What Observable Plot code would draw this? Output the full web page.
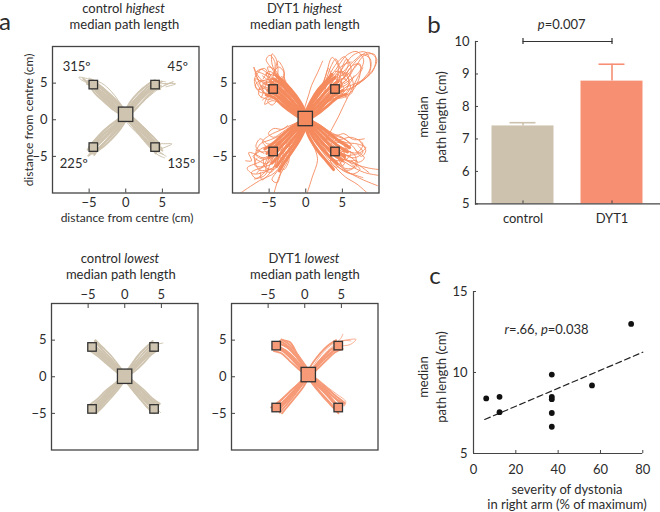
<!DOCTYPE html>
<html>
<head>
<meta charset="utf-8">
<script src="https://cdn.jsdelivr.net/npm/d3@7"></script>
<script src="https://cdn.jsdelivr.net/npm/@observablehq/plot@0.6"></script>
<style>
html,body{margin:0;padding:0;background:#fff}
#page{position:relative;width:660px;height:512px;overflow:hidden;font-family:Lato,sans-serif;color:#2b2b2b}
.t{position:absolute;white-space:nowrap;font-size:13px;line-height:1;transform:translate(-50%,-50%)}
.r{transform:translate(-50%,-50%) rotate(-90deg)}
svg{position:absolute;background:transparent}
</style>
</head>
<body>
<div id="page"></div>
<script>
// ---- panel b ----
const groups = ["control", "DYT1"];
const groupMeans = [7.4, 8.78];
const groupUpper = [7.5, 9.3];
// ---- panel c ----
const severity = [6, 12.3, 12.3, 37, 37, 37, 37, 37, 56, 74.5];
const pathLength = [8.4, 8.5, 7.55, 9.87, 8.5, 8.35, 7.5, 6.65, 9.2, 13];
const fitX = [5.3, 80];
const fitY = [7.1, 11.25];
// ---- panel a: target centres (cm); the first one is the centre target ----
const controlHighTargetX = [0.05, -4.36, 4.07, -4.36, 4.07];
const controlHighTargetY = [0.68, 4.73, 4.73, -3.8, -3.8];
const dytHighTargetX = [0, -4.38, 4.06, -4.38, 4.06];
const dytHighTargetY = [0.1, 4.13, 4.13, -4.4, -4.4];
const controlLowTargetX = [0.05, -4.4, 4.07, -4.4, 4.07];
const controlLowTargetY = [0, 4, 4, -4.46, -4.46];
const dytLowTargetX = [0.55, -3.83, 4.64, -3.83, 4.64];
const dytLowTargetY = [0.23, 4.18, 4.18, -4.27, -4.27];
const angleLabels = ["315º", "45º", "225º", "135º"];
const angleX = [-6.7, 7.1, -7.1, 7.6];
const angleY = [7.2, 7.2, -6, -6];

// Hand-traced reaches, each a flat list x,y,x,y,...
const controlHighPaths = [
[0.1,0.6,-1,1.9,-2.3,3.3,-3.6,4.4,-4.6,5],[0.3,0.9,-0.9,2.2,-2.2,3.5,-3.5,4.6,-4.4,5.1],
[-0.1,0.8,-1.3,1.8,-2.6,3,-3.8,4.2,-4.7,4.8],[0.2,0.4,-1.2,1.6,-2.6,2.8,-3.9,3.9,-4.5,4.6],
[-0.2,0.5,-1.5,1.5,-2.9,2.7,-4,3.8,-4.4,4.4],[0.4,0.2,-1,1.4,-2.5,2.5,-3.7,3.7,-4.3,4.5],
[0,1,-1,2.6,-2,3.9,-3.3,5,-4.8,5.5,-6.4,5.8,-6,5.4,-4.6,4.8],[0.5,0.7,-0.6,2,-1.9,3.3,-3.2,4.5,-4.2,5.3,-5,5.7],
[0,0.4,-1.6,1.3,-3,2.5,-4.2,3.6,-4.9,4.6],[0.1,0.9,-1.1,2.4,-2.4,3.7,-3.8,4.7,-5.2,5.3],
[0.2,0.7,-1.1,2,-2.5,3.2,-3.7,4.1,-5.3,4.9],[0,0.6,-1.2,2.1,-2.7,3.3,-4.1,4.2,-5.8,5.6],
[0.1,0.8,1,2.1,2.2,3.4,3.4,4.4,4.4,5],[-0.2,0.7,0.7,2,1.9,3.4,3.1,4.5,4.2,5.1],
[0.2,0.6,1.3,1.9,2.5,3.2,3.6,4.2,4.5,4.7],[-0.3,0.5,0.4,1.8,1.6,3.2,2.9,4.4,4.1,5.2,5.4,5.2],
[0.3,0.4,1.5,1.6,2.7,2.9,3.7,3.9,4.2,4.4],[0,0.9,0.9,2.4,2.1,3.7,3.3,4.6,4.6,4.9,6.8,4.9,5.5,4.5],
[0,0.5,1.2,1.5,2.6,2.7,3.8,3.7,4.6,4.3,6.5,5.2,5.2,4.7],[-0.1,1,0.6,2.4,1.7,3.7,3,4.8,4,5.4],
[0.2,0.9,1.4,2.2,2.7,3.5,3.9,4.5,4.8,4.6],[0,0.7,1.1,1.8,2.3,3,3.5,4,4.7,4.2],
[0.1,0.5,0.8,1.6,2,3,3.2,4.1,4.4,4.6],[-0.1,0.8,0.9,2.2,2,3.2,3.2,4.2,4.9,5.2],
[0,0.6,-1,-0.6,-2.3,-1.9,-3.5,-3.1,-4.5,-4.1],[0.3,0.4,-0.7,-0.9,-2,-2.2,-3.2,-3.4,-4.2,-4.4],
[-0.3,0.5,-1.4,-0.6,-2.7,-1.7,-3.8,-2.8,-4.6,-3.7],[0.2,0.2,-0.7,-1.2,-1.9,-2.6,-3.1,-3.7,-4.5,-4.6],
[-0.2,0.3,-1.5,-0.3,-2.9,-1.4,-4.1,-2.7,-5,-3.7],[0.4,0.6,-0.8,-0.7,-2.2,-2.1,-3.6,-3.3,-5,-4.6,-4.6,-4],
[0,0.1,-1.1,-1.2,-2.4,-2.6,-3.6,-3.8,-5.1,-4.9],[-0.4,0.6,-1.7,-0.5,-3.1,-1.6,-4.4,-3,-5.2,-4.1],
[0.1,0.8,-1,-0.3,-2.5,-1.5,-3.9,-2.6,-4.7,-3.3],[0,0.4,-1.2,-0.9,-2.6,-2.2,-3.9,-3.5,-4.8,-4.4],
[0.1,0.3,-0.9,-1,-2.1,-2.4,-3.4,-3.6,-4.3,-4.8],[-0.1,0.6,-1.2,-0.4,-2.4,-1.8,-3.7,-2.9,-4.9,-3.4],
[0,0.6,1.1,-0.5,2.2,-1.7,3.3,-2.9,4.3,-4],[-0.2,0.4,0.9,-0.8,2,-2,3.1,-3.2,4.2,-4.4],
[0.2,0.8,1.4,-0.3,2.6,-1.5,3.7,-2.7,4.5,-3.6],[-0.3,0.2,0.7,-1,1.9,-2.2,3,-3.5,4.4,-4.8,5.3,-5.2],
[0.3,0.7,1.6,-0.2,2.9,-1.4,4,-2.6,4.7,-3.2,6.3,-3.3,5,-3.9],[0,0.3,1.2,-0.9,2.4,-2.2,3.5,-3.4,4.8,-4.5,5.5,-5],
[0.1,0.9,1.3,0,2.5,-1.2,3.8,-2.4,4.7,-3.4],[-0.1,0.5,0.8,-0.7,1.8,-1.9,3.2,-3.5,4.1,-4.6],
[0.4,0.5,1.6,-0.6,2.8,-1.8,3.9,-3,4.9,-3.9],[0.1,0.6,1.2,-0.6,2.3,-1.8,3.6,-3.1,4.6,-4.2],
[0,0.5,1,-0.7,2.1,-2,3.3,-3.3,4.5,-4.5,5.1,-4.7],[0.2,0.4,1.4,-0.7,2.7,-2,3.8,-3.2,5,-4.2]
];
const dytHighPaths = [
[0,0.5,-1,2.2,-2.2,3.7,-3.4,4.9,-4.4,5.6],[0,0.3,-1.2,1.8,-2.5,3.2,-3.7,4.4,-4.8,5.2],[0,0.1,-1.3,1.4,-2.7,2.7,-3.9,3.9,-5,4.6],
[0,-0.1,-1.5,1.1,-2.9,2.3,-4.1,3.4,-5.2,4],[0,-0.2,-1.6,0.8,-3.1,1.9,-4.3,3,-5.4,3.4],[0.2,0.6,-0.8,2.5,-2,4.1,-3.1,5.2,-4,6],
[0,0.5,0.9,2.3,2,3.8,3,5,4,5.8],[0,0.3,1.1,1.9,2.3,3.3,3.4,4.5,4.4,5.2],[0,0.1,1.3,1.5,2.6,2.8,3.7,3.9,4.8,4.6],
[0,-0.1,1.5,1.1,2.8,2.4,4,3.4,5.1,4],[0,-0.2,1.6,0.8,3.1,2,4.3,3,5.5,3.5],[-0.2,0.6,0.7,2.5,1.7,4.1,2.7,5.2,3.6,6.2],
[0,-0.5,-0.9,-2.2,-2,-3.8,-3,-5,-4,-6.4],[0,-0.3,-1.1,-1.9,-2.3,-3.3,-3.4,-4.6,-4.6,-5.9],[0,-0.1,-1.3,-1.5,-2.6,-2.8,-3.7,-4,-5,-5.2],
[0,0.1,-1.5,-1.1,-2.8,-2.4,-4,-3.5,-5.3,-4.6],[0,0.2,-1.6,-0.8,-3.1,-2,-4.3,-3.1,-5.6,-4],[0.2,-0.6,-0.7,-2.5,-1.7,-4.1,-2.7,-5.5,-3.6,-7],
[0,-0.5,0.9,-2.2,2,-3.7,3.2,-5,4.3,-6],[0,-0.3,1.2,-1.9,2.4,-3.3,3.7,-4.6,5,-5.6],[0,-0.1,1.4,-1.5,2.7,-2.9,4,-4.1,5.3,-5],
[0,0.1,1.6,-1.1,3,-2.4,4.3,-3.5,5.7,-4.4],[0,0.2,1.8,-0.8,3.3,-1.9,4.7,-3,6,-3.8],[-0.2,-0.6,0.6,-2.6,1.7,-4.3,2.8,-5.6,3.8,-6.8],
[0,0,-1.2,1.4,-2.4,2.9,-3.4,3.8,-4.6,4.6,-5.8,5.2,-6.6,6.1,-7.1,7.2,-6.5,5.4,-5.8,3.8,-6.1,3],
[0.3,0.2,-1,1.7,-2.2,3.2,-3.2,4.4,-3.9,6,-4.6,7.6,-4.6,9,-4,8.2,-3.8,6.4,-4.2,4.6],
[-0.3,0,-1.4,1.1,-2.7,2.4,-3.9,3.3,-5,3.6,-6.3,3.8,-6.9,4.7,-6,5.4,-4.6,4.8],
[0.5,0.5,-0.8,2.2,-1.9,3.6,-2.9,4.7,-4.2,5.3,-5.5,6.1,-6.6,6.6],
[0.2,-0.2,-1.3,0.8,-2.8,1.9,-4.1,2.8,-5.1,3.2,-5.9,2.7],
[0,0.5,-1,2.2,-2,4.2,-3.2,5.6,-4.4,6.2,-3.7,7.2,-3,6.5,-3.3,5],
[-0.5,0.3,-1.8,1.2,-3.2,2.6,-4.4,3.6,-4.8,4.8,-4,5.8,-5,6.6,-5.8,5.6],
[0.4,0,-1,1.2,-2.3,2.5,-3.6,3.6,-5,4.2,-6,4.6,-5.5,3.6,-4.2,3.4],
[0.1,0.3,-0.9,1.9,-1.7,3.2,-2.6,4.5,-3.6,5.2,-4.9,5.2,-5.9,4.9],
[-0.2,0.4,-1.1,1.6,-2.5,3.3,-3.2,5,-4.2,6.8,-5.2,7.2,-4.7,5.8],
[0.3,0.6,-0.6,1.6,-1.5,3.1,-2.3,4.4,-3.5,4.7,-4.4,4.2,-5.3,4.4],
[-0.1,-0.1,-1.6,1.4,-3,2.7,-4.2,4,-5.4,4.8,-6.9,5.6,-6.2,4.2,-5,3],
[0.2,0.1,-1.2,1,-2.1,2.2,-3.4,3.1,-4.4,3.2,-5.2,2.5,-4.6,2,-3.8,2.8],
[0,0.2,-0.9,1.5,-1.9,2.7,-2.9,3.9,-3.8,5,-3.3,5.9,-2.7,5.3],
[0.4,0.4,-0.9,1.5,-2.2,2.8,-3.1,3.4,-4,4,-5,5.4,-5.4,6.4,-4.8,6.1],
[-0.4,0.1,-1.5,1.6,-2.8,3.1,-3.9,4.4,-4.8,5.5,-5.6,7,-6.3,6.8],
[0,0.3,-1.4,1.8,-2.6,3.4,-3.8,4.8,-4.4,5.2,-4.1,4.4],
[0.1,0,-1,1,-2,2.3,-3,3.1,-3.9,3.6,-5,3.9,-5.6,4.4],
[0,0.2,-1.8,2.6,-3.2,4.8,-4.2,6.4,-5.2,5.6,-5.6,4.4,-6.6,4.2,-7,5.6,-6.2,6.8],
[0.1,0.4,-1.6,3,-2.8,5,-3,6.8,-3.8,8,-4.2,6.6,-4.9,5.4,-5.9,6],
[-0.2,0.1,-2,1.6,-3.6,2.9,-5.2,2.8,-6.4,3.4,-6.1,4.6,-5,4.8,-3.8,4.4],
[0,0.3,-1.5,2.4,-3,4.4,-4.5,6.8,-5.4,8.2,-4.9,8.8,-4.2,7.8,-4.4,6],
[0.2,0,-1.7,1.2,-3.3,2.2,-4.6,2.6,-5.6,2.1,-5,3.4,-3.8,3.9],
[0,0.4,-1.1,2.8,-2.3,4.6,-3.7,5.9,-5,6.2,-6.1,6.9,-6.9,6.3,-6.2,5.2],
[0.1,0.1,-1.3,1.9,-2.9,3.6,-4,5.4,-5.6,5.4,-6.4,4.9,-5.4,4.1],
[0,0,1.1,1.3,2.2,2.8,3.3,3.9,4.3,4.6,5.6,5.5,6.2,6.8,5.6,8.3,4.9,6.9,4.5,5.1],
[-0.9,-0.5,-0.4,0.6,-0.1,1.8,0.4,3.4,0.8,4.7,1.6,6.4,2.3,8],
[0.3,0.1,1.6,1.5,3,3.1,4.2,4.3,6,7,8.4,9.2,9.7,8.2,8.2,5.7,5.6,4.5],
[-0.3,0.3,0.9,1.9,2.5,3.6,4.3,6,6.6,8.9,8.2,9.2,8.8,7,6.5,4.5,4.6,3.9],
[2.7,-2.9,3.6,-1.2,4.5,0.5,5.3,2.2,6.2,4,7,5.6,7.8,7.1],
[0.2,0.5,1.1,2.1,2,3.9,2.7,5.9,3.6,8.5,4.4,7.4,4.3,5.6,4,4.2],
[-0.2,0,1.2,1,2.6,2.4,3.9,3.2,5.4,3.4,6.1,4.6,5.1,5.6,3.8,5],
[0.4,-0.1,1.6,1.1,3,2.4,4.4,3.1,6,3.6,7.2,5.4,7.4,7.6,6.4,7.4,5.2,5.6],
[0,0.4,0.9,2.3,1.9,3.4,2.8,4.6,3.8,6.1,5,7.4,6.2,7.9],
[-0.4,0.2,0.5,1.9,1.5,3.4,2.4,4.7,3.3,5.5,4.6,5.4,5.2,4.3],
[0.1,0.2,1.3,1.9,2.6,3.1,3.6,4.4,4.9,6.3,7,8.4,7.7,8.9,8.8,8.3,8.6,6.2,7,4.8],
[0.5,0.2,1.8,1.2,3,2.9,4,3.5,4.9,3.6,5.6,2.9],
[-0.1,0.5,0.7,2.2,1.7,3.6,2.5,5.4,3.1,7,3.4,6.2,3.3,4.8],
[0.2,-0.2,1.5,0.9,2.7,2.3,3.8,3.6,4.8,4.7,6,6,7,7.6,7.6,7.2],
[0,0.1,0.9,1.6,2.1,3.3,3,4.1,4.4,4.2,4.9,5.3,4.3,6.2,3.6,5.1],
[0.3,0.3,1.2,1.3,2.3,2.4,3.5,3.3,4.6,3.9,5.8,4.7,6.6,6],
[0,0.2,1.8,2.6,3.2,4.6,4.6,6.6,5.6,6.2,5.9,4.9,4.9,3.5,4,3.3],
[-0.1,0.4,1.4,3,2.6,5,3.4,7.2,4.1,8.3,4.7,7,5.4,5.6],
[0.2,0,2,1.4,3.6,2.8,5,3,6.3,3.7,6.4,5.4,5.6,6.4,4.6,5.8],
[0,0.3,1.6,2.2,3.1,4.2,4.5,5.2,6.6,7,8,8.8,9.4,8.9,9.3,6.9,7.6,5.2,5.6,3.9],
[0.1,0.1,1.2,2,2.6,4,3.2,6,4.3,7.8,5.3,8.6,5.8,7.5,5,6],
[-0.2,0.2,1,2.6,2.2,4.6,3.9,6.6,5.7,8.9,7,9.3,7.9,8.2,7.2,6.4,5.2,4.9],
[0.2,0.3,1.9,1.9,3.4,3.4,4.9,4.4,5.9,5.2,5.2,6.3,4,6.6],
[0.1,0,-1.2,-1.2,-2.6,-2.4,-3.7,-3.5,-4.7,-4.6,-5.8,-5.2,-7.1,-4.6,-7.8,-4.5,-7.4,-5.6,-8.2,-5.6],
[-0.3,-0.2,-1.1,-1.8,-2.3,-3.1,-3.4,-4.7,-4.3,-6.4,-7.1,-7.4,-8,-6.6,-6.4,-5.8,-5,-5],
[0.3,-0.1,-1,-1.6,-2.1,-3.4,-3,-5.4,-4.2,-7.2,-6.3,-8.3,-8.9,-10],
[-0.1,0.1,-1.5,-1,-2.8,-2.1,-3.9,-3.1,-5.2,-3.3,-6.2,-2.6,-6.8,-3.7,-5.7,-4.6],
[0.2,-0.3,-0.8,-2,-1.9,-3.9,-2.6,-5.9,-3.6,-7.7,-4.3,-9.9],
[-0.5,0,-1.9,-0.8,-3.2,-1.7,-4.4,-2.4,-5.1,-1.9,-4.4,-1.2,-3.2,-1.3,-2.5,-0.8],
[0,-0.2,-1.1,-1.9,-2.2,-2.8,-3.6,-3.9,-4.6,-5.2,-5.9,-6.4,-7,-6.2,-6.7,-5.3],
[0.4,-0.4,-0.9,-2,-2.3,-3.6,-3.3,-4.4,-4,-5.8,-5,-7.4,-6,-8.2,-6.2,-7.2],
[-0.2,-0.1,-1.6,-1.4,-3,-2.7,-4.4,-3.6,-5.8,-3.8,-7,-5,-6.3,-6.9,-4.8,-6.7],
[0.1,0.2,-1.4,-0.8,-2.7,-1.7,-3.7,-2.9,-4.6,-4,-6,-4.4,-6.8,-4.1],
[0,-0.3,-1.2,-1.5,-2.3,-2.4,-3.1,-3.6,-3.5,-4.9,-3.2,-6.1,-2.5,-5.4,-2.8,-4.4],
[-0.3,0.2,-1.3,-1.3,-2.8,-2.6,-4.2,-4.1,-5.2,-5.7,-5.4,-7,-4.6,-7.1,-4.1,-5.6],
[0.2,0,-0.9,-1.3,-1.8,-2.7,-2.8,-3.7,-3.9,-4.4,-5,-4.9,-5.6,-6,-6.7,-7.3],
[-0.4,-0.2,-1.7,-1.5,-3.1,-2.9,-4.1,-4.4,-4.8,-5.9,-5.6,-7.6,-7,-8.1],
[0,-0.2,-1.8,-2,-3.2,-3.6,-4.4,-5.2,-5.4,-6,-6.4,-5.6,-7.2,-5,-6.4,-4.4],
[-0.1,-0.4,-1.4,-2.8,-2.6,-4.6,-3.6,-6.6,-4.6,-8.2,-3.9,-8.6,-3.4,-7],
[0.2,0,-1.9,-1,-3.6,-2.2,-5,-2.8,-6.2,-3.3,-6.8,-4.8,-5.6,-5.4,-4.4,-4.9],
[0,-0.3,-1.6,-2.4,-3,-4.4,-4.6,-6,-6.2,-6.6,-7.4,-7.2,-6.8,-8,-5.4,-7],
[0.1,-0.1,-1.2,-1.8,-2.6,-3.2,-3.2,-5,-4.4,-6.8,-5.6,-6.4,-5.8,-5.2],
[-0.2,-0.2,-1,-2.4,-2.2,-4.2,-2.3,-5.6,-3,-6.8,-3.9,-5.8,-3.4,-4.6],
[0.2,0.1,-1.7,-0.6,-3.4,-1.4,-4.9,-2.1,-5.9,-3,-5,-3.8,-3.9,-3.2],
[-0.1,-0.1,1.1,-1.3,2.3,-2.2,3.4,-3.4,4.4,-4.6,5.5,-5.4,6.6,-6.5,5.3,-6.6,4.4,-5.2],
[-0.4,0.1,1,-1.7,2.4,-3.2,4,-4.8,6,-6.2,8,-7.2,10,-7.6],
[-0.3,-0.3,0.9,-2,2.1,-3.6,3.6,-5.3,5.4,-6.9,7.6,-8.1,9.8,-9],
[0,-0.5,1,-2.6,2.3,-4.4,3.7,-6.1,5.4,-7.8,7,-8.8,8.4,-10],
[0.3,0.1,1.6,-1.1,3,-2.1,4.5,-2.7,6.2,-2.4,7.8,-3.3,7,-4.5,5.5,-4.2,4.3,-3.6],
[0.5,0,1.9,-0.9,3.4,-1.9,4.8,-2.3,6.4,-3.6,7.6,-5,8.2,-4.2,7.4,-3],
[-0.1,0.2,1.2,-0.9,2.6,-2,3.7,-3,5,-3.8,6.8,-5,6.6,-6.5,5.6,-6.9,4.6,-6],
[0.2,-0.2,1.3,-1.5,2.6,-2.8,3.8,-4,4.9,-5.4,4.2,-6.5,3.4,-5.8,3.7,-4.5],
[0.1,-0.4,1.1,-2,2.2,-3.2,3.2,-4.4,4.2,-5.2,6,-5.6,7.4,-6.3,8.6,-7.2],
[0.4,0.2,1.8,-0.6,3.1,-1.5,4.3,-2.1,5.2,-1.9,6.5,-2.7,8,-2.6],
[0,0,1.3,-1.1,2.7,-2.5,4,-3.7,5.2,-4.4,6.2,-4.4,5.5,-5.4,3.9,-5],
[0.3,-0.3,1.6,-1.5,2.9,-2.9,4.2,-4.2,5.8,-5.6,7,-5.6,6.8,-6.6],
[-0.3,0,0.8,-1.4,2.1,-2.7,3.2,-3.8,3.6,-3.1,4.9,-3.2,6,-3.6],
[0.2,0.3,1.5,-0.8,2.8,-1.7,3.9,-2.8,5.2,-3,5.9,-3.9,4.5,-4.5],
[-0.2,-0.4,0.7,-1.9,1.7,-3.1,2.8,-4.6,4.1,-6.2,5.8,-7.2,7.8,-7.9],
[-0.1,-0.5,0.6,-2.6,1.4,-4.4,1.6,-5.6,0.9,-7.8,0.2,-10],
[0.1,0.1,1,-1.1,2.1,-2.2,3.4,-2.9,4.5,-3.6,5.4,-3.9,5,-3.1],
[0,-0.2,1.4,-1.9,2.9,-3.3,4.1,-4.9,5.3,-6,4.7,-6.3,4.2,-5.6],
[0,-0.2,1.8,-2,3.2,-3.2,4.6,-4.4,6,-5,7.2,-5.8,8,-5.2,6.8,-4.2],
[0.1,-0.4,1.4,-2.6,2.8,-4.2,4,-6,5.2,-7,6.4,-7.4,7.4,-6.8,6.2,-5.6],
[0.2,0,2,-1.2,3.6,-2.4,5.4,-3.1,7,-3.3,8.2,-3.8,7.2,-4.6,5.6,-4.9],
[0,-0.3,1.7,-2.4,3.2,-3.9,4.8,-5.2,6.8,-6.1,8.6,-6.6,10,-6.8],
[-0.1,-0.2,1.2,-2.2,2.4,-3.7,3.2,-4.9,4.4,-5.6,5.4,-5.2,5.1,-4.2],
[0.1,0.1,1.9,-0.9,3.5,-2,5.2,-2.6,6.2,-3.4,5.2,-4,4,-3.1],
[0,-0.1,1.4,-1.7,3,-3.2,5,-4.6,6.6,-5.2,7.8,-4.4,7.1,-3.5]
];
const controlLowPaths = [
[0,0,-1,1,-2.2,2.2,-3.4,3.3,-4.4,4.2],[0.2,0.1,-0.9,1.3,-2,2.6,-3.2,3.8,-4.1,4.9],
[-0.2,-0.1,-1.3,0.9,-2.5,2,-3.7,3.2,-4.7,3.9],[0.1,0.3,-0.8,1.5,-1.9,2.9,-3,4,-4,5],
[0,-0.2,-1.2,0.7,-2.5,1.8,-3.8,2.9,-4.8,3.6],[0.3,0,-0.9,1.1,-2.1,2.3,-3.3,3.5,-4.3,4.5],
[-0.1,0.2,-1,1.4,-2.3,2.5,-3.5,3.7,-4.6,4.4],[0.1,-0.1,-1.1,0.9,-2.3,1.9,-3.6,3,-4.5,3.7],
[0.1,0.2,-0.9,1.2,-1.9,2.4,-3,3.6,-3.8,4.7],[-0.1,0,-1.2,1.1,-2.4,2.2,-3.6,3.4,-4.5,4.6],
[0,0,1,1,2.1,2.2,3.1,3.4,4.1,4.3],[-0.2,0.1,0.7,1.3,1.7,2.7,2.8,3.9,3.8,4.9],
[0.2,-0.1,1.2,0.9,2.3,2,3.4,3.1,4.4,3.9],[-0.1,0.3,0.8,1.5,1.8,2.9,2.9,4,3.9,4.7],
[0.1,-0.2,1.3,0.7,2.5,1.8,3.6,3,4.6,3.7],[0,0.1,1,1.2,2.1,2.4,3.3,3.7,4.4,4.4,5.2,4.6],
[0.2,0.2,1.2,1.2,2.3,2.3,3.4,3.4,4.6,4.1],[-0.2,0,0.7,1,1.9,2.1,3,3.2,4,4],
[0,0.2,0.9,1.3,2,2.6,3,3.7,3.9,4.5],[0.1,0,1.1,1,2.3,2.1,3.2,3.3,4.3,4.1],
[0,0,-1.1,-1.1,-2.2,-2.3,-3.3,-3.5,-4.4,-4.6],[0.2,-0.1,-0.9,-1.4,-2,-2.7,-3.1,-3.9,-4,-4.9],
[-0.2,0.1,-1.3,-0.9,-2.5,-2.1,-3.6,-3.3,-4.8,-4.2],[0.1,-0.3,-0.8,-1.6,-1.9,-2.9,-3,-4.1,-3.9,-5],
[0,0.2,-1.2,-0.8,-2.6,-1.9,-3.8,-3.1,-4.9,-3.9],[0.3,0,-0.8,-1.2,-2,-2.5,-3.2,-3.7,-4.4,-4.9],
[-0.1,-0.1,-1.2,-1.2,-2.4,-2.4,-3.5,-3.6,-4.7,-4.6],[0.1,0.1,-1,-1,-2.3,-2.1,-3.5,-3.2,-4.6,-4.3],
[0.1,-0.2,-1,-1.3,-2.1,-2.5,-3.3,-3.8,-4.2,-4.8],[-0.2,0,-1.2,-1,-2.4,-2.2,-3.6,-3.4,-4.5,-4.4],
[0,0,1.1,-1.1,2.2,-2.3,3.1,-3.4,4.1,-4.5],[-0.2,-0.1,0.8,-1.4,1.8,-2.7,2.9,-3.9,3.9,-4.9],
[0.2,0.1,1.3,-0.9,2.5,-2,3.6,-3.1,4.7,-3.8],[-0.1,-0.3,0.9,-1.6,2,-2.9,3,-4.1,4,-5],
[0.1,0.2,1.3,-0.7,2.6,-1.8,3.7,-2.9,4.8,-3.7],[0,0,1.2,-1,2.4,-2.2,3.4,-3.4,4.6,-4.6,4.9,-4.9],
[0.2,-0.1,1.2,-1.2,2.3,-2.4,3.5,-3.5,4.5,-4.4],[-0.2,-0.2,0.8,-1.2,2,-2.5,3.1,-3.7,4.2,-4.8],
[0.1,0.1,1.1,-0.8,2.3,-2,3.3,-3,4.5,-4.1],[0,-0.1,1,-1.2,2.1,-2.6,3.2,-3.6,4.3,-4.7]
];
const dytLowPaths = [
[0.6,0.2,-0.5,1.4,-1.7,2.8,-2.8,3.7,-3.8,4.3],[0.7,0.4,-0.3,1.7,-1.3,3.1,-2.3,4.2,-3.4,4.9],
[0.4,0.1,-0.7,1.2,-1.9,2.5,-3,3.5,-4.1,3.9],[0.8,0.5,-0.1,1.8,-1.1,3.2,-2.1,4.4,-3.2,5.1],
[0.5,0,-0.9,1.1,-2.1,2.2,-3.2,3.2,-4.2,3.5],[0.6,0.3,-0.4,1.7,-1.4,3,-2.4,4,-3.6,4.6],
[0.7,0.2,-0.4,1.4,-1.5,2.6,-2.6,3.6,-3.7,4],[0.5,0.4,-0.4,1.9,-1.2,3.4,-2,4.7,-3,5],
[0.6,0.1,-0.6,1.3,-1.8,2.6,-3,3.7,-3.9,3.7],[0.8,0.3,-0.2,1.5,-1.2,2.9,-2.2,4,-3.3,4.5],
[0.5,0.3,1.5,1.6,2.6,2.8,3.5,3.7,4.6,4.3],[0.4,0.4,1.3,1.7,2.3,3.1,3.3,4.1,4.3,4.7,7,5.1,6.2,4.4,4.9,4.2],
[0.6,0.2,1.7,1.4,2.8,2.5,3.9,3.5,5,4],[0.3,0.5,1.1,1.9,2.1,3.2,3.1,4.2,4.3,5],
[0.7,0.1,1.9,1.2,3,2.3,4.1,3.3,5.2,3.8],[0.5,0.4,1.6,1.8,2.6,3,3.6,4,4.9,5.2,5.2,5.8],
[0.4,0.2,1.4,1.4,2.5,2.6,3.6,3.7,4.6,4.1],[0.6,0.3,1.7,1.5,2.7,2.7,3.8,3.9,5.2,4.9,6.3,4.9],
[0.7,0.3,1.8,1.5,2.9,2.6,4,3.6,4.9,4.4],[0.5,0.1,1.5,1.3,2.6,2.4,3.7,3.4,4.7,3.9],
[0.5,0.2,-0.6,-1,-1.6,-2.1,-2.7,-3.2,-3.8,-4.4],[0.7,0.1,-0.4,-1.2,-1.4,-2.5,-2.4,-3.7,-3.4,-4.9],
[0.3,0.3,-0.8,-0.9,-1.9,-1.9,-3,-3,-4.2,-4.1],[0.6,0,-0.2,-1.4,-1.2,-2.7,-2.2,-3.9,-3.1,-5],
[0.4,0.1,-0.9,-1,-2.1,-2.1,-3.3,-3.2,-4.6,-4.2],[0.6,0.2,-0.5,-1.1,-1.6,-2.3,-2.6,-3.5,-3.6,-4.7],
[0.5,0,-0.6,-1.3,-1.7,-2.5,-2.8,-3.6,-3.9,-4.7],[0.7,0.3,-0.3,-0.9,-1.4,-2.1,-2.5,-3.1,-3.7,-4],
[0.4,0.2,-0.7,-1,-1.8,-2.2,-2.9,-3.4,-4.1,-4.5],[0.6,0.1,-0.4,-1,-1.5,-2.3,-2.5,-3.4,-3.5,-4.4],
[0.5,0.2,1.6,-0.8,2.7,-1.9,3.7,-3,4.7,-4.3],[0.3,0.1,1.3,-1.1,2.3,-2.3,3.4,-3.5,4.5,-4.8],
[0.7,0.3,1.9,-0.6,3.1,-1.6,4.2,-2.6,5.4,-3.5],[0.4,0,1.3,-1.3,2.4,-2.6,3.5,-3.8,4.6,-5],
[0.7,0.4,2,-0.5,3.2,-1.5,4.4,-2.4,5.6,-3.4,5.4,-4],[0.5,0.1,1.6,-1,2.8,-2.2,3.9,-3.3,5,-4.5],
[0.6,0.3,1.7,-0.7,2.9,-1.7,4,-2.8,5.2,-3.9],[0.4,0.2,1.4,-1,2.6,-2.1,3.6,-3.2,4.8,-4.7],
[0.6,0.1,1.7,-1,2.8,-2,3.8,-3.2,5.1,-4.3],[0.5,0.3,1.7,-0.7,2.8,-1.8,4.1,-2.9,5.4,-3.7]
];

const page = document.getElementById("page");
function addText(html, x, y, opts = {}) {
  const el = document.createElement("div");
  el.className = "t" + (opts.rotate ? " r" : "");
  el.innerHTML = html;
  el.style.left = x + "px";
  el.style.top = y + "px";
  if (opts.size) el.style.fontSize = opts.size + "px";
  page.appendChild(el);
}
function mount(svg, left, top) {
  svg.style.left = left + "px";
  svg.style.top = top + "px";
  page.appendChild(svg);
}
const axisColor = "#444";
const font = {fontFamily: "Lato,sans-serif", fontSize: "13px", color: "#2b2b2b", background: "transparent"};

function toRows(paths) {
  const rows = [];
  paths.forEach((p, id) => {
    for (let i = 0; i < p.length; i += 2) rows.push({id, x: p[i], y: p[i + 1]});
  });
  return rows;
}
function reachPanel({paths, tx, ty, color, coreWidth, thinWidth, left, top, size, xAxis, labels}) {
  const mL = 30, mR = 4, mT = 22, mB = 22;
  const targets = tx.map((x, i) => ({x, y: ty[i], h: i === 0 ? 0.98 : 0.58}));
  const core = paths.filter(p => p.length <= 10);
  const wiggly = paths.filter(p => p.length > 10);
  const marks = [
    Plot.line(toRows(core), {x: "x", y: "y", z: "id", stroke: color, strokeWidth: coreWidth, curve: "catmull-rom", clip: true}),
    Plot.line(toRows(wiggly), {x: "x", y: "y", z: "id", stroke: color, strokeWidth: thinWidth, curve: "catmull-rom", clip: true}),
    Plot.rect(targets, {x1: d => d.x - d.h, x2: d => d.x + d.h, y1: d => d.y - d.h, y2: d => d.y + d.h,
      fill: color, stroke: "#333", strokeWidth: 1.3}),
    Plot.frame({stroke: axisColor, strokeWidth: 1.3}),
    Plot.axisX({anchor: xAxis, ticks: [-5, 0, 5], tickSize: -4, tickPadding: 9, stroke: axisColor, label: null}),
    Plot.axisY({anchor: "left", ticks: [-5, 0, 5], tickSize: -4, tickPadding: 9, stroke: axisColor, label: null})
  ];
  if (labels) marks.push(Plot.text(angleLabels, {x: (d, i) => angleX[i], y: (d, i) => angleY[i], text: d => d, fontSize: 13, fill: "#2b2b2b"}));
  mount(Plot.plot({
    width: size + mL + mR, height: size + mT + mB,
    marginLeft: mL, marginRight: mR, marginTop: mT, marginBottom: mB,
    x: {domain: [-10, 10]}, y: {domain: [-10, 10]},
    style: font, marks
  }), left - mL, top - mT);
}

reachPanel({paths: controlHighPaths, tx: controlHighTargetX, ty: controlHighTargetY, color: "#cfc4af", coreWidth: 2, thinWidth: 1, left: 51.7, top: 45.7, size: 146.5, xAxis: "bottom", labels: true});
reachPanel({paths: dytHighPaths, tx: dytHighTargetX, ty: dytHighTargetY, color: "#f58a5e", coreWidth: 3, thinWidth: 0.9, left: 232.3, top: 45.7, size: 146.5, xAxis: "bottom"});
reachPanel({paths: controlLowPaths, tx: controlLowTargetX, ty: controlLowTargetY, color: "#cfc4af", coreWidth: 1.8, thinWidth: 1, left: 51, top: 302.7, size: 146.5, xAxis: "top"});
reachPanel({paths: dytLowPaths, tx: dytLowTargetX, ty: dytLowTargetY, color: "#f69a78", coreWidth: 1.8, thinWidth: 0.8, left: 231.3, top: 302.7, size: 146.5, xAxis: "top"});

// panel b
{
  const mL = 30, mR = 0, mT = 10, mB = 24, w = 185, h = 162.4;
  const rows = groups.map((g, i) => ({g, mean: groupMeans[i], upper: groupUpper[i]}));
  const fill = d3.scaleOrdinal(groups, ["#cdc2ad", "#f78f73"]);
  mount(Plot.plot({
    width: w + mL + mR, height: h + mT + mB, marginLeft: mL, marginRight: mR, marginTop: mT, marginBottom: mB,
    x: {type: "band", domain: groups, padding: 0, range: [mL + 2.3, mL + 2.3 + 179]},
    y: {domain: [5, 10]},
    style: font,
    marks: [
      Plot.barY(rows, {x: "g", y1: () => 5, y2: "mean", fill: d => fill(d.g), insetLeft: 13.5, insetRight: 13.5}),
      Plot.ruleX(rows, {x: "g", y1: "mean", y2: "upper", stroke: d => fill(d.g), strokeWidth: 1.6}),
      Plot.tickY(rows, {x: "g", y: "upper", stroke: d => fill(d.g), strokeWidth: 1.6, insetLeft: 31.5, insetRight: 31.5}),
      Plot.line(groups.map(g => ({g, y: 10})), {x: "g", y: "y", stroke: "#333", strokeWidth: 1.2}),
      Plot.ruleX(groups, {x: d => d, y1: () => 9.91, y2: () => 10.09, stroke: "#333", strokeWidth: 1.2}),
      Plot.frame({anchor: "bottom", stroke: axisColor, strokeWidth: 1.2}),
      Plot.frame({anchor: "left", stroke: axisColor, strokeWidth: 1.2}),
      Plot.axisX({tickSize: -3, tickPadding: 13, stroke: axisColor, label: null}),
      Plot.axisY({ticks: [5, 6, 7, 8, 9, 10], tickFormat: d => d, tickSize: -3, tickPadding: 9, stroke: axisColor, label: null})
    ]
  }), 475 - mL, 41.3 - mT);
}

// panel c
{
  const mL = 30, mR = 14, mT = 10, mB = 26, w = 169.3, h = 162;
  mount(Plot.plot({
    width: w + mL + mR, height: h + mT + mB, marginLeft: mL, marginRight: mR, marginTop: mT, marginBottom: mB,
    x: {domain: [0, 80]}, y: {domain: [5, 15]},
    style: font,
    marks: [
      Plot.ruleX([0], {stroke: axisColor, strokeWidth: 1.2}),
      Plot.ruleY([5], {stroke: axisColor, strokeWidth: 1.2}),
      Plot.line(fitX.map((x, i) => ({x, y: fitY[i]})), {x: "x", y: "y", stroke: "#222", strokeWidth: 1.2, strokeDasharray: "6,3.5"}),
      Plot.dot(severity.map((x, i) => ({x, y: pathLength[i]})), {x: "x", y: "y", r: 2.9, fill: "#111", stroke: "none"}),
      Plot.axisX({ticks: [0, 20, 40, 60, 80], tickFormat: d => d, tickSize: -3, tickPadding: 14, stroke: axisColor, label: null}),
      Plot.axisY({ticks: [5, 10, 15], tickFormat: d => d, tickSize: -3, tickPadding: 9, stroke: axisColor, label: null})
    ]
  }), 472.7 - mL, 290.7 - mT);
}

// text
addText("a", 5, 21, {size: 24});
addText("b", 434, 24, {size: 24});
addText("c", 435, 275, {size: 24});
addText("control <i>highest</i>", 123.5, 8);
addText("median path length", 124.5, 23.5);
addText("DYT1 <i>highest</i>", 304.5, 8);
addText("median path length", 305, 23.5);
addText("control <i>lowest</i>", 120, 257.5);
addText("median path length", 120.8, 274);
addText("DYT1 <i>lowest</i>", 304, 257.5);
addText("median path length", 305, 274);
addText("distance from centre (cm)", 127, 218, {size: 12});
addText("distance from centre (cm)", 28.5, 120, {rotate: true, size: 12});
addText("<i>p</i>=0.007", 561.7, 24.3);
addText("median", 423, 117, {rotate: true});
addText("path length (cm)", 441, 117, {rotate: true});
addText("median", 423, 377, {rotate: true});
addText("path length (cm)", 441, 377, {rotate: true});
addText("<i>r</i>=.66, <i>p</i>=0.038", 546.5, 329);
addText("severity of dystonia", 567, 488.5);
addText("in right arm (% of maximum)", 567, 504);
</script>
</body>
</html>
